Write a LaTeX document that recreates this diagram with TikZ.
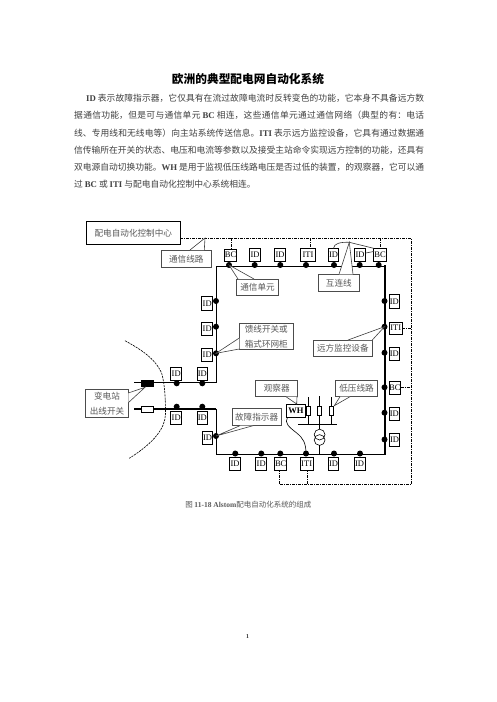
\documentclass[tikz,border=0pt]{standalone}
\usepackage{fontspec}
\setmainfont{Noto Sans CJK SC}
\newfontfamily\lat{Liberation Serif}
\newcommand{\La}[1]{{\lat\bfseries #1}}
\XeTeXlinebreaklocale "zh"
\XeTeXlinebreakskip=0pt plus 3pt minus 0.3pt
\tikzset{
  devbox/.style={draw=black,line width=0.7pt,fill=white,inner sep=0pt,font=\fontsize{8.5}{9}\lat,text=black},
  lbl/.style={draw=black!70,line width=0.6pt,fill=white,inner sep=0pt,align=center,font=\fontsize{8.6}{15}\selectfont,text=black!65},
  dot/.style={circle,fill=black,inner sep=0pt,minimum size=6pt},
  comline/.style={black,line width=0.65pt,dash pattern=on 3pt off 1pt on 1pt off 1pt},
  main/.style={line width=0.9pt},
  heavy/.style={line width=1.7pt},
  bodyline/.style={anchor=north west,inner sep=0pt,align=justify,font=\fontsize{8.75}{10}\selectfont,text=black!75},
}
% device box: name, left, top, right, bottom, text
\newcommand{\dev}[6]{\node[devbox,minimum width={#4-#2},minimum height={#5-#3}] (#1) at ({(#2+#4)/2},{(#3+#5)/2}) {#6};}
% callout pointer: x1 y1, x2 y2 on the box edge, target
\newcommand{\ptr}[5]{\fill[white] (#1,#2) -- (#5.center) -- (#3,#4) -- cycle;
  \draw[black!75,line width=0.6pt] (#1,#2) -- (#5.center) -- (#3,#4);}
\newcommand{\bline}[3]{\node[bodyline,text width={424-#1}] at (#1,#2) {\parfillskip=0pt #3\par};}
\begin{document}
\begin{tikzpicture}[x=1pt,y=-1pt]
\useasboundingbox (0,0) rectangle (496,702);
\fill[white] (0,0) rectangle (496,702);
% title and body
\node[font=\fontsize{11.7}{12}\selectfont\bfseries,text=black,inner sep=0pt] (title) at (248,79) {欧洲的典型配电网自动化系统};
\bline{86}{93.5}{\La{ID} 表示故障指示器，它仅具有在流过故障电流时反转变色的功能，它本身不具备远方数}
\bline{74}{111}{据通信功能，但是可与通信单元 \La{BC} 相连，这些通信单元通过通信网络（典型的有：电话}
\bline{74}{128.5}{线、专用线和无线电等）向主站系统传送信息。\La{ITI} 表示远方监控设备，它具有通过数据通}
\bline{74}{145.5}{信传输所在开关的状态、电压和电流等参数以及接受主站命令实现远方控制的功能，还具有}
\bline{74}{162.5}{双电源自动切换功能。\La{WH} 是用于监视低压线路电压是否过低的装置，的观察器，它可以通}
\node[bodyline] (last) at (74,180) {过 \La{BC} 或 \La{ITI} 与配电自动化控制中心系统相连。};

% named points of the network
\coordinate (cTR) at (411.7,238.3);
\coordinate (cBR) at (411.7,484);
\coordinate (cBL) at (279.3,484);
\coordinate (cITI) at (307.3,484);
\coordinate (cTopBC) at (231,238.3);
\coordinate (cTopITI) at (310,238.3);
\coordinate (cTopBC2) at (380,238.3);
\coordinate (cRITI) at (411.7,328);
\coordinate (cRBC) at (411.7,387.3);

% communication lines
\node[draw=black,line width=0.8pt,fill=white,inner sep=0pt,minimum width=93.3pt,minimum height=22.6pt,font=\fontsize{8.6}{10}\selectfont,text=black!65] (center) at (133.3,233) {配电自动化控制中心};
\draw[comline] (center.east |- cTR) -- (cTR) -- (cBR) -- (cBL);
\draw[comline] (cTopBC) -- (231,249);
\draw[comline] (cTopITI) -- (310,248.3);
\draw[comline] (cTopBC2) -- (380,248.3);
\draw[comline] (402.3,328) -- (cRITI);
\draw[comline] (400.7,387.3) -- (cRBC);
\draw[comline] (cBL) -- (279.3,470);
\draw[comline] (cITI) -- (307.3,470);

% feeders
\draw[main] (216,382.7) -- (216,266) -- (385,266);
\draw[heavy] (385,265.2) -- (385,454.8);
\draw[main] (385,454) -- (216,454) -- (216,409);
\draw[line width=1.4pt] (134.3,382.7) -- (216,382.7);
\draw[line width=1.4pt] (134.3,409) -- (216,409);
\fill[black] (141,380) rectangle (154,387);
\draw[line width=0.6pt,fill=white] (141.7,406.3) rectangle (153.3,412);
% boundary curve
\draw[black,line width=0.6pt,dash pattern=on 2.2pt off 0.9pt] (125,340.7) .. controls (140,349) and (155,358) .. (161.7,373.3) .. controls (165,385) and (165.5,400) .. (165.5,414) .. controls (165,428) and (155,442) .. (129.3,458.3);

% dots
\foreach \n/\x/\y in {t1/229/265,t2/254.7/265,t3/280.3/265,t4/306/265,t5/334/265,t6/359.7/265,t7/378.7/265,
  r1/384.5/301,r2/384.5/326.7,r3/384.5/352.7,r4/384.5/387.3,r5/384.5/412.7,r6/384.5/439.5,
  l1/216/301,l2/216/326.7,l3/216/353.3,l4/216/436,
  u1/176.7/383.3,u2/202.3/383.3,v1/176.7/406.7,v2/202.3/406.7,
  b1/235.3/453.5,b2/261.3/453.5,b3/280.3/453.5,b4/306/453.5,b5/334/453.5,b6/360/453.5}
  {\node[dot] (\n) at (\x,\y) {};}

% top boxes
\dev{dt1}{224.3}{249}{236.7}{261}{BC}
\dev{dt2}{249.3}{248.3}{260.7}{261.7}{ID}
\dev{dt3}{274.5}{248.3}{285.5}{261.7}{ID}
\dev{dt4}{300.3}{248.3}{315.7}{261.7}{ITI}
\dev{dt5}{328.3}{248.3}{338.7}{261.7}{ID}
\dev{dt6}{354.3}{248.3}{365.7}{261.7}{ID}
\dev{dt7}{373.7}{248.3}{386.3}{261.7}{BC}
% right boxes
\dev{dr1}{389.3}{294.3}{399.3}{308.3}{ID}
\dev{dr2}{389.3}{322}{402.3}{334}{ITI}
\dev{dr3}{389.3}{347.7}{399.3}{360}{ID}
\dev{dr4}{389}{381.3}{400.7}{394}{BC}
\dev{dr5}{389.3}{407.3}{399.3}{420}{ID}
\dev{dr6}{389.3}{433.3}{399.7}{446.7}{ID}
% left boxes
\dev{dl1}{201.7}{296.7}{212.7}{310}{ID}
\dev{dl2}{201.7}{322.3}{212.7}{335.7}{ID}
\dev{dl3}{201.7}{348.3}{212.7}{361.7}{ID}
\dev{dl4}{202.3}{431}{212.7}{444.7}{ID}
% feeder boxes
\dev{du1}{170.7}{367.7}{181.7}{380.7}{ID}
\dev{du2}{197.3}{367.7}{207.3}{380.7}{ID}
\dev{dv1}{170.7}{411.7}{181.7}{424.3}{ID}
\dev{dv2}{197.3}{411.7}{207.3}{424.3}{ID}
% bottom boxes
\dev{db1}{229.3}{457.3}{240.7}{470}{ID}
\dev{db2}{255.7}{457.3}{266.7}{470}{ID}
\dev{db3}{274.7}{457.3}{286.7}{470}{BC}
\dev{db4}{300.3}{457.3}{313}{470}{ITI}
\dev{db5}{328.3}{457.3}{338.7}{470}{ID}
\dev{db6}{354.3}{457.3}{365}{470}{ID}

% low-voltage part
\coordinate (barL) at (298.3,424.3);
\coordinate (barR) at (336.7,424.3);
\coordinate (barM) at (319.7,424.3);
\draw[line width=0.6pt] (barL) -- (barR);
\foreach \x/\t in {308.3/397.3,319.7/396,331/397.3}{
  \draw[line width=0.6pt] (\x,\t) -- (\x,424.3);
  \draw[line width=0.6pt,fill=white] (\x-2,406.7) rectangle (\x+2,415);
}
\draw[line width=0.6pt] (barM) -- (319.7,429);
\draw[line width=0.6pt] (319.5,445) -- (319.5,454);
\draw[line width=0.6pt] (319.6,434.6) circle (5.4);
\draw[line width=0.6pt] (319.6,440) circle (5.4);
\dev{wh}{286.7}{404.3}{305}{417.3}{\bfseries WH}
\draw[line width=0.6pt] (287.5,417.3) .. controls (284,423) and (289,427) .. (296.7,433) .. controls (303,438) and (306,443) .. (b4.center);

% callouts
\node[lbl,minimum width=50.7pt,minimum height=17.7pt] (tongxin) at (186.3,258.8) {通信线路};
\coordinate (comtip) at (205,238);
\ptr{190}{250}{204.3}{250}{comtip}
\node[lbl,minimum width=41.6pt,minimum height=16pt] (danyuan) at (257.5,287) {通信单元};
\ptr{238}{279}{254}{279}{t1}
\node[lbl,minimum width=41pt,minimum height=17.4pt] (hulian) at (338.8,283) {互连线};
\coordinate (hutip) at (349.3,242.3);
\ptr{339}{274.3}{353}{274.3}{hutip}
\draw[line width=0.6pt,black!80] (333.5,248.3) .. controls (334,243.5) and (340,242) .. (hutip) -- (373.7,248.3);
\draw[line width=0.6pt,black!80] (365.7,253) -- (373.7,251.5);
\node[lbl,minimum width=54pt,minimum height=26pt] (kuixian) at (266.3,336.3) {馈线开关或\\箱式环网柜};
\ptr{239.3}{338}{239.3}{349}{l3}
\node[lbl,minimum width=59pt,minimum height=16.7pt] (yuanfang) at (342.8,348.3) {远方监控设备};
\ptr{348}{340}{372.3}{340}{r2}
\node[lbl,minimum width=42pt,minimum height=16.7pt] (guancha) at (276.7,388.4) {观察器};
\coordinate (whtip) at (296.7,404);
\ptr{286}{396.7}{297}{396.7}{whtip}
\node[lbl,minimum width=41.6pt,minimum height=16pt] (diya) at (356.5,388.7) {低压线路};
\coordinate (diyatip) at (334.3,405.7);
\ptr{340}{396.7}{350}{396.7}{diyatip}
\node[lbl,minimum width=48.7pt,minimum height=17.4pt] (guzhang) at (256.6,417) {故障指示器};
\ptr{240}{425.7}{253}{425.7}{l4}
\node[lbl,minimum width=42.6pt,minimum height=28pt] (bian) at (107,403.3) {变电站\\出线开关};
\coordinate (bktip) at (145,387.3);
\ptr{128.3}{393}{128.3}{402.7}{bktip}

% caption and page number
\node[inner sep=0pt,font=\fontsize{7.5}{9}\selectfont,text=black!65] (cap) at (248.3,505) {图 \La{11-18 Alstom}配电自动化系统的组成};
\node[inner sep=0pt,font=\fontsize{6}{8}\lat\bfseries,text=black!80] (page) at (247.7,637) {1};
\end{tikzpicture}
\end{document}
